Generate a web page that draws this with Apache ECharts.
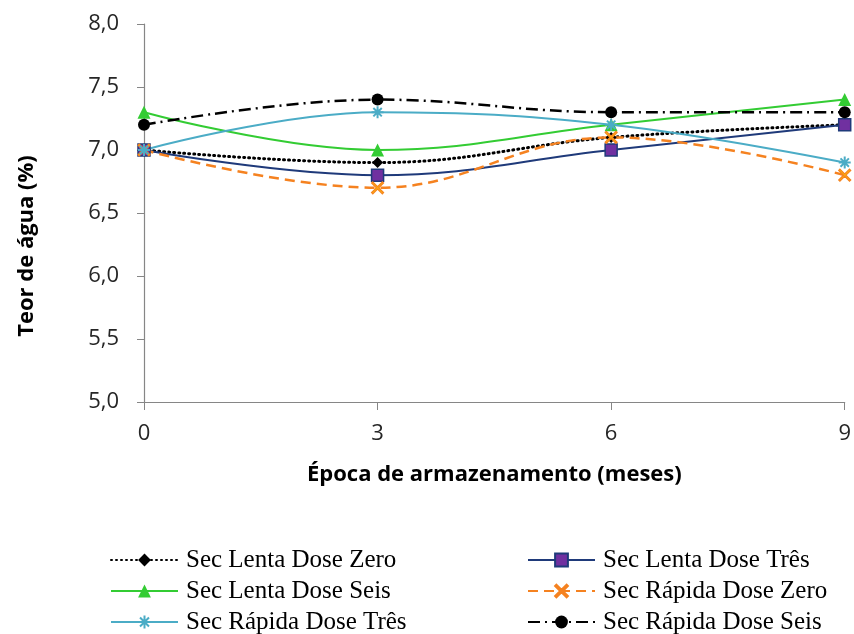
<!DOCTYPE html>
<html>
<head>
<meta charset="utf-8">
<script src="https://cdn.jsdelivr.net/npm/echarts@6/dist/echarts.min.js"></script>
<style>
  html, body { margin: 0; padding: 0; background: #fff; }
  #chart { width: 854px; height: 634px; }
</style>
</head>
<body>
<div id="chart"></div>
<script>
// Storage time (months) on the x axis
const meses = [0, 3, 6, 9];

// Water content (%) for each drying / dose treatment
const lentaZero   = [7.0, 6.9, 7.1, 7.2];
const lentaTres   = [7.0, 6.8, 7.0, 7.2];
const lentaSeis   = [7.3, 7.0, 7.2, 7.4];
const rapidaZero  = [7.0, 6.7, 7.1, 6.8];
const rapidaTres  = [7.0, 7.3, 7.2, 6.9];
const rapidaSeis  = [7.2, 7.4, 7.3, 7.3];

const nomes = [
  'Sec Lenta Dose Zero', 'Sec Lenta Dose Três', 'Sec Lenta Dose Seis',
  'Sec Rápida Dose Zero', 'Sec Rápida Dose Três', 'Sec Rápida Dose Seis'
];

const pares = v => meses.map((m, i) => [m, v[i]]);

const xPath = 'path://M1,0 L5,4 L9,0 L10,1 L6,5 L10,9 L9,10 L5,6 L1,10 L0,9 L4,5 L0,1 Z';
const asterisco = 'path://M0,5 L10,5 M5,0 L5,10 M1.5,1.5 L8.5,8.5 M8.5,1.5 L1.5,8.5';

const SMOOTH = 0.4;
const font = '"Open Sans", "DejaVu Sans", sans-serif';

const series = [
  {
    name: nomes[0], data: pares(lentaZero),
    symbol: 'diamond', symbolSize: 11,
    itemStyle: { color: '#000' },
    lineStyle: { color: '#000', width: 3, type: [1, 4], cap: 'round' }
  },
  {
    name: nomes[1], data: pares(lentaTres),
    symbol: 'rect', symbolSize: 12,
    itemStyle: { color: '#7030A0', borderColor: '#1F3A7A', borderWidth: 1.5 },
    lineStyle: { color: '#1F3A7A', width: 2 }
  },
  {
    name: nomes[2], data: pares(lentaSeis),
    symbol: 'triangle', symbolSize: 13,
    itemStyle: { color: '#33CC33' },
    lineStyle: { color: '#33CC33', width: 2 }
  },
  {
    name: nomes[3], data: pares(rapidaZero),
    symbol: xPath, symbolSize: 12,
    itemStyle: { color: '#FFC000', borderColor: '#F58220', borderWidth: 1.2 },
    lineStyle: { color: '#F58220', width: 2.5, type: [10, 6] }
  },
  {
    name: nomes[4], data: pares(rapidaTres),
    symbol: asterisco, symbolSize: 12,
    itemStyle: { color: '#4BACC6', borderColor: '#4BACC6', borderWidth: 2 },
    lineStyle: { color: '#4BACC6', width: 2 }
  },
  {
    name: nomes[5], data: pares(rapidaSeis),
    symbol: 'circle', symbolSize: 12,
    itemStyle: { color: '#000' },
    lineStyle: { color: '#000', width: 2.5, type: [12, 5, 2, 5] }
  }
].map(s => Object.assign({ type: 'line', smooth: SMOOTH, showSymbol: true, animation: false }, s));

const legendBase = {
  orient: 'vertical',
  itemWidth: 67,
  itemHeight: 16,
  itemGap: 5,
  padding: 0,
  top: 547,
  height: 120,
  width: 320,
  textStyle: {
    fontFamily: '"Liberation Serif", "Times New Roman", serif',
    fontSize: 25,
    color: '#000',
    lineHeight: 26,
    padding: [0, 0, 0, 3]
  }
};

const chart = echarts.init(document.getElementById('chart'));
chart.setOption({
  backgroundColor: '#fff',
  animation: false,
  grid: { left: 144, right: 6, top: 24, bottom: 232, containLabel: false },
  xAxis: {
    type: 'value',
    min: 0, max: 9, interval: 3,
    name: 'Época de armazenamento (meses)',
    nameLocation: 'middle',
    nameGap: 62,
    nameTextStyle: { fontFamily: font, fontSize: 22, fontWeight: 'bold', color: '#000' },
    axisLine: { lineStyle: { color: '#868686', width: 1.2 } },
    axisTick: { show: true, length: 8, lineStyle: { color: '#868686' } },
    axisLabel: { margin: 21, fontFamily: font, fontSize: 22, color: '#262626' },
    splitLine: { show: false }
  },
  yAxis: {
    type: 'value',
    min: 5, max: 8, interval: 0.5,
    name: 'Teor de água (%)',
    nameLocation: 'middle',
    nameGap: 106,
    nameTextStyle: { fontFamily: font, fontSize: 22, fontWeight: 'bold', color: '#000', padding: [0, 66, 0, 0] },
    axisLine: { show: true, lineStyle: { color: '#868686', width: 1.2 } },
    axisTick: { show: true, length: 7, lineStyle: { color: '#868686' } },
    axisLabel: {
      margin: 25, fontFamily: font, fontSize: 22, color: '#262626',
      formatter: v => v.toFixed(1).replace('.', ',')
    },
    splitLine: { show: false }
  },
  legend: [
    Object.assign({}, legendBase, { left: 110, data: [nomes[0], nomes[2], nomes[4]] }),
    Object.assign({}, legendBase, { left: 527, data: [nomes[1], nomes[3], nomes[5]] })
  ],
  series: series
});
</script>
</body>
</html>
